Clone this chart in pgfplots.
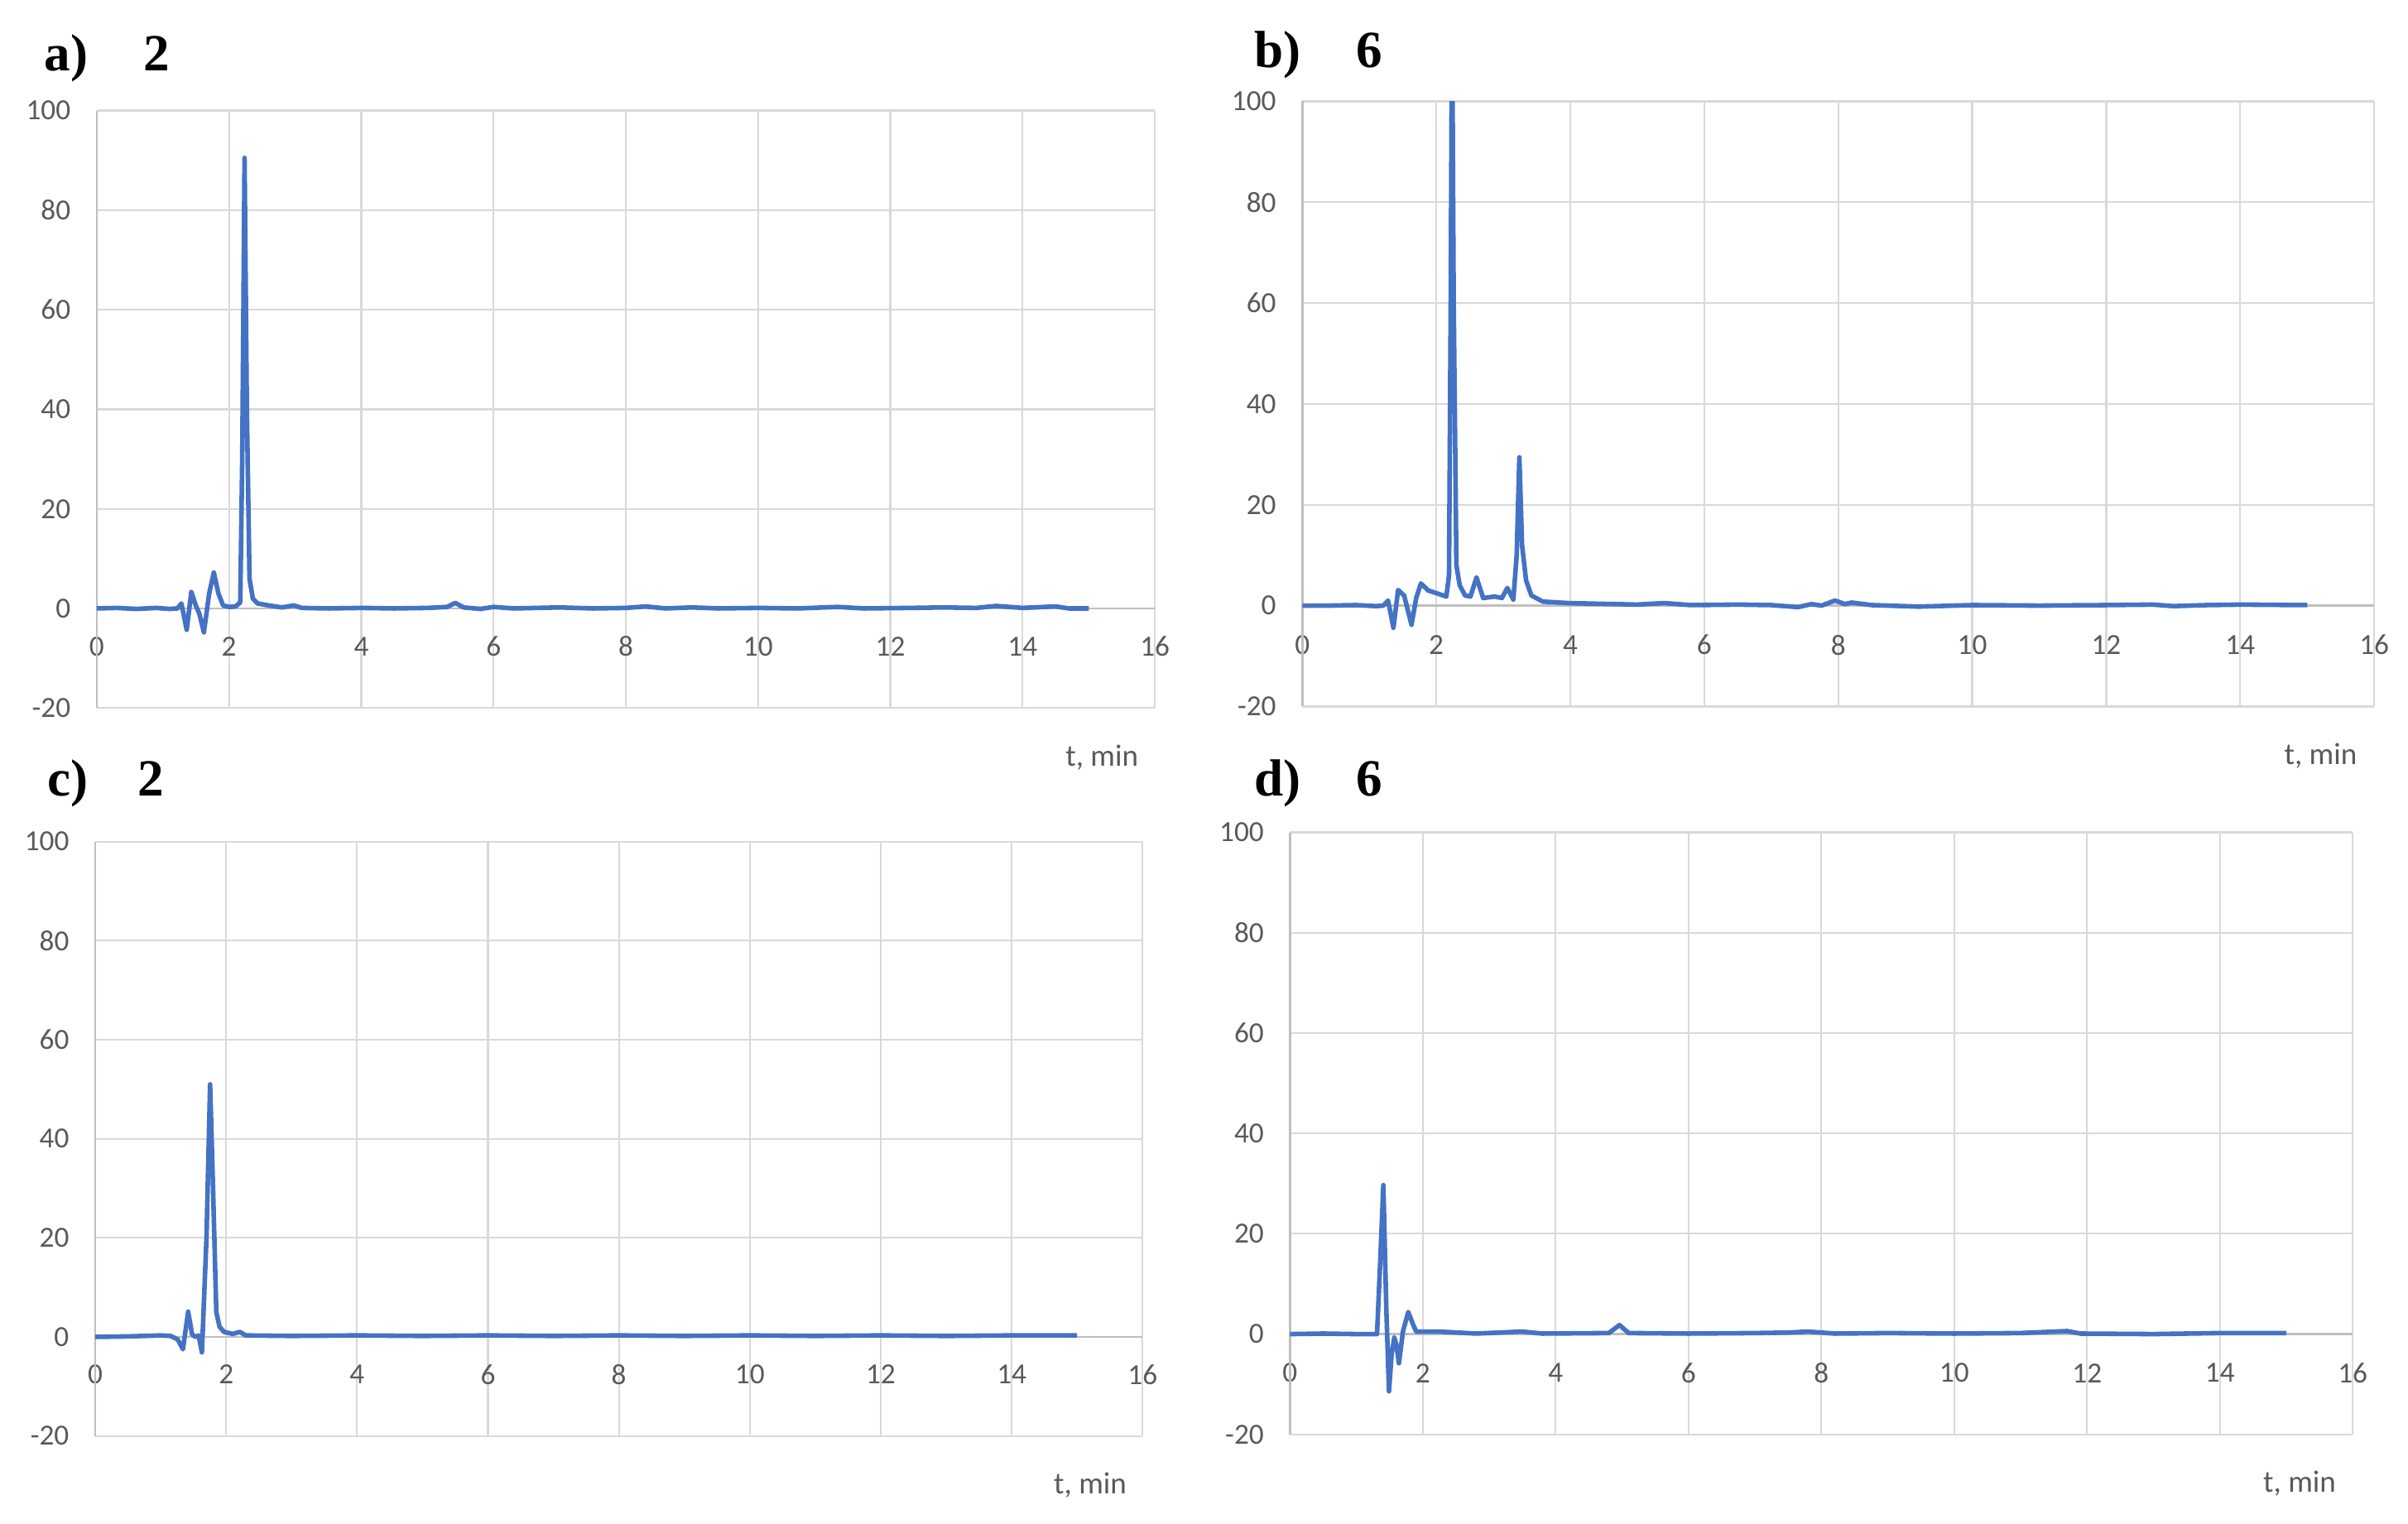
\documentclass[border=0pt]{standalone}
\usepackage{pgfplots}
\pgfplotsset{compat=1.18}
\usepackage{fontspec}
\setmainfont{Carlito}
\newfontfamily\titlefont{Liberation Serif}
\definecolor{xlblue}{HTML}{4472C4}
\definecolor{gridgray}{HTML}{D9D9D9}
\definecolor{axisgray}{HTML}{BFBFBF}
\definecolor{lblgray}{HTML}{595959}

\pgfplotsset{
  chrom/.style={
    scale only axis,
    xmin=0, xmax=16, ymin=-20, ymax=100,
    xtick={0,2,...,16}, ytick={-20,0,...,100},
    grid=major,
    major grid style={gridgray, line width=0.6pt},
    axis line style={draw=none},
    major tick length=0pt,
    extra x ticks={0}, extra x tick labels={},
    extra y ticks={0}, extra y tick labels={},
    extra tick style={major grid style={axisgray, line width=0.7pt}},
    tick label style={font=\fontsize{9.5}{10}\selectfont, text=lblgray},
    /pgf/number format/assume math mode=true,
    xticklabel style={anchor=center, yshift=20pt},
    yticklabel style={xshift=-5pt},
    xlabel={t, min},
    xlabel style={at={(rel axis cs:0.95,0)}, anchor=center, yshift=-16pt,
      font=\fontsize{10}{11}\selectfont, text=lblgray},
  },
  chromline/.style={draw=xlblue, line width=1.5pt, line join=round, mark=none},
}

\begin{document}
\begin{tikzpicture}
\path[use as bounding box] (0,0) rectangle (784pt,496pt);

% a)
\begin{axis}[chrom, at={(31.5pt,265.5pt)}, anchor=south west,
  width=344.5pt, height=194.5pt]
\addplot[chromline] coordinates {(0,0.0)(0.3,0.1)(0.6,-0.1)(0.9,0.1)(1.1,-0.1)(1.22,0.0)(1.28,1.0)(1.36,-4.3)(1.43,3.3)(1.5,0.5)(1.55,-1)(1.62,-4.8)(1.7,3)(1.77,7.2)(1.84,3)(1.91,0.6)(2.0,0.3)(2.1,0.4)(2.17,1.2)(2.2,30)(2.235,90.5)(2.27,40)(2.31,6)(2.36,2)(2.43,1.0)(2.6,0.6)(2.8,0.2)(2.98,0.6)(3.1,0.1)(3.5,0.0)(4,0.1)(4.5,0.0)(5.0,0.1)(5.3,0.3)(5.42,1.1)(5.55,0.2)(5.8,-0.1)(6.0,0.3)(6.3,0.0)(7,0.2)(7.5,0.0)(8,0.1)(8.3,0.4)(8.6,0.0)(9,0.2)(9.4,0.0)(10,0.1)(10.6,0.0)(11.2,0.3)(11.6,0.0)(12.3,0.1)(12.8,0.2)(13.3,0.1)(13.6,0.5)(14,0.1)(14.5,0.4)(14.7,0.0)(15,0.0)};
\end{axis}

% b)
\begin{axis}[chrom, at={(424pt,266pt)}, anchor=south west,
  width=349pt, height=197pt]
\addplot[chromline] coordinates {(0,0)(0.4,0)(0.8,0.1)(1.1,-0.1)(1.21,0)(1.28,1)(1.36,-4.4)(1.43,3.1)(1.52,2.0)(1.63,-3.8)(1.7,1.5)(1.77,4.4)(1.88,3.0)(2.04,2.3)(2.15,1.8)(2.19,6)(2.215,60)(2.235,120)(2.26,60)(2.3,8)(2.35,4)(2.43,2.0)(2.51,1.8)(2.6,5.6)(2.7,1.5)(2.87,1.8)(2.98,1.5)(3.06,3.5)(3.15,1.2)(3.2,10)(3.24,29.4)(3.28,12)(3.34,5)(3.42,2)(3.59,0.8)(3.97,0.5)(4.3,0.4)(5,0.2)(5.4,0.5)(5.8,0.1)(6.5,0.2)(7,0.1)(7.4,-0.3)(7.6,0.3)(7.75,0)(7.95,1.0)(8.1,0.3)(8.2,0.6)(8.5,0.1)(9.2,-0.2)(10,0.1)(11,0)(12,0.1)(12.7,0.2)(13,-0.1)(13.5,0.1)(14,0.2)(15,0.1)};
\end{axis}

% c)
\begin{axis}[chrom, at={(31pt,28.5pt)}, anchor=south west,
  width=341pt, height=193.5pt]
\addplot[chromline] coordinates {(0,0)(0.5,0.1)(1.0,0.3)(1.15,0.2)(1.26,-0.5)(1.34,-2.5)(1.42,5.1)(1.48,0.5)(1.53,0)(1.58,0.3)(1.63,-3.1)(1.7,20)(1.755,51)(1.8,30)(1.85,5)(1.9,2)(1.97,1)(2.1,0.6)(2.21,1.0)(2.3,0.3)(3,0.2)(4,0.3)(5,0.2)(6,0.3)(7,0.2)(8,0.3)(9,0.2)(10,0.3)(11,0.2)(12,0.3)(13,0.2)(14,0.3)(15,0.3)};
\end{axis}

% d)
\begin{axis}[chrom, at={(420pt,29pt)}, anchor=south west,
  width=346pt, height=196pt]
\addplot[chromline] coordinates {(0,0)(0.5,0.1)(1.0,0)(1.31,0)(1.36,15)(1.405,29.7)(1.45,5)(1.49,-11.4)(1.53,-4)(1.57,-0.7)(1.6,-2)(1.64,-5.8)(1.7,0.5)(1.78,4.4)(1.85,2)(1.9,0.5)(2.24,0.5)(2.8,0.1)(3.49,0.5)(3.8,0.1)(4.8,0.2)(4.96,1.8)(5.1,0.2)(6,0.1)(7,0.2)(7.5,0.3)(7.8,0.5)(8.2,0.1)(9,0.2)(10,0.1)(11,0.2)(11.7,0.6)(11.9,0.1)(13,0.0)(14,0.2)(15,0.2)};
\end{axis}

\node[anchor=west, font=\titlefont\bfseries\fontsize{17}{19}\selectfont] at (11pt,477pt) {a)\hspace{18pt}2};
\node[anchor=west, font=\titlefont\bfseries\fontsize{17}{19}\selectfont] at (405pt,478pt) {b)\hspace{18pt}6};
\node[anchor=west, font=\titlefont\bfseries\fontsize{17}{19}\selectfont] at (12pt,241pt) {c)\hspace{16pt}2};
\node[anchor=west, font=\titlefont\bfseries\fontsize{17}{19}\selectfont] at (405pt,241pt) {d)\hspace{18pt}6};
\end{tikzpicture}
\end{document}
